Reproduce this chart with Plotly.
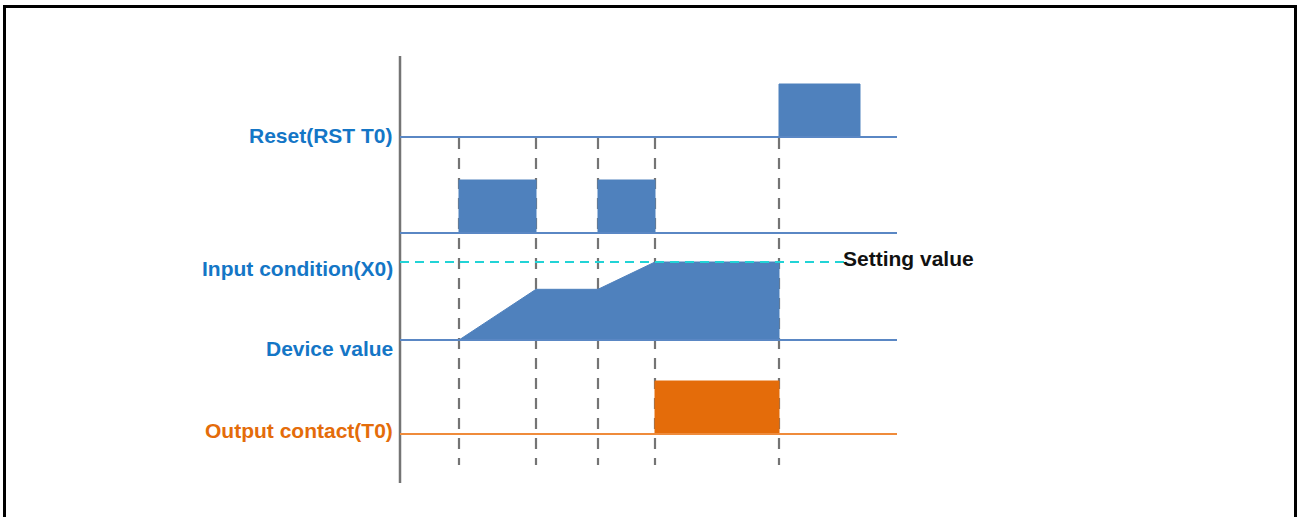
import plotly.graph_objects as go

# ---- timing data (time units along the horizontal axis) ----
event_times = [59, 136, 198, 255, 379]          # dashed guide lines
t_end = 497

reset_t = [0, 379, 379, 460, 460, 497]
reset_v = [0, 0, 1, 1, 0, 0]

input_t = [0, 59, 59, 136, 136, 198, 198, 255, 255, 497]
input_v = [0, 0, 1, 1, 0, 0, 1, 1, 0, 0]

device_t = [0, 59, 136, 198, 255, 379, 379, 497]
device_v = [0, 0, 0.65, 0.65, 1, 1, 0, 0]
setting_value = 1.0
setting_end = 445

output_t = [0, 255, 255, 379, 379, 497]
output_v = [0, 0, 1, 1, 0, 0]

labels = ["Reset(RST T0)", "Input condition(X0)", "Device value", "Output contact(T0)"]

# ---- layout constants (lane positions / styles) ----
BASE_RESET, BASE_INPUT, BASE_DEVICE, BASE_OUTPUT = 380, 284, 177, 83
AMP = 53
DEV_AMP = 78
BLUE = "#4F81BD"
BLUE_LINE = "#5A87C4"
ORANGE = "#E46C0A"
ORANGE_LINE = "#EF8B3B"
GRAY = "#747474"
CYAN = "#22D3D6"
FONT = "Liberation Sans"

fig = go.Figure()

# vertical axis line
fig.add_trace(go.Scatter(x=[0, 0], y=[461, 34], mode="lines",
                         line=dict(color=GRAY, width=2.5), hoverinfo="skip"))

# dashed guide lines
gx, gy = [], []
for t in event_times:
    gx += [t, t, None]
    gy += [BASE_RESET - 1, 52, None]
fig.add_trace(go.Scatter(x=gx, y=gy, mode="lines",
                         line=dict(color=GRAY, width=2.2, dash="11px,9px"), hoverinfo="skip"))


def lane(ts, vs, base, amp, fill, line):
    fig.add_trace(go.Scatter(x=[0, t_end], y=[base, base], mode="lines",
                             line=dict(color=line, width=2), hoverinfo="skip"))
    fig.add_trace(go.Scatter(x=ts, y=[base + amp * v for v in vs], mode="lines",
                             fill="tonexty", fillcolor=fill,
                             line=dict(color=fill, width=1), hoverinfo="skip"))
    fig.add_trace(go.Scatter(x=[0, t_end], y=[base, base], mode="lines",
                             line=dict(color=line, width=2), hoverinfo="skip"))


lane(reset_t, reset_v, BASE_RESET, AMP, BLUE, BLUE_LINE)
lane(input_t, input_v, BASE_INPUT, AMP, BLUE, BLUE_LINE)
lane(device_t, device_v, BASE_DEVICE, DEV_AMP, BLUE, BLUE_LINE)
lane(output_t, output_v, BASE_OUTPUT, AMP, ORANGE, ORANGE_LINE)

# setting value dashed line
sv_y = BASE_DEVICE + DEV_AMP * setting_value
fig.add_trace(go.Scatter(x=[0, setting_end], y=[sv_y, sv_y], mode="lines",
                         line=dict(color=CYAN, width=2, dash="9px,6px"), hoverinfo="skip"))

# labels
label_y = [382, 249, 169, 87]
label_c = ["#1476C6", "#1476C6", "#1476C6", ORANGE]
for txt, y, c in zip(labels, label_y, label_c):
    fig.add_annotation(x=-5, y=y, text="<b>" + txt + "</b>", showarrow=False,
                       xanchor="right", yanchor="middle",
                       font=dict(family=FONT, size=21, color=c))
fig.add_annotation(x=441, y=259, text="<b>Setting value</b>", showarrow=False,
                   xanchor="left", yanchor="middle",
                   font=dict(family=FONT, size=21, color="#111111"))

# outer frame
fig.add_shape(type="rect", xref="paper", yref="paper",
              x0=4.5 / 1298, x1=1295.5 / 1298, y0=-0.05, y1=1 - 6.5 / 517,
              line=dict(color="black", width=3), fillcolor="rgba(0,0,0,0)")

fig.update_layout(width=1298, height=517, margin=dict(l=0, r=0, t=0, b=0),
                  paper_bgcolor="white", plot_bgcolor="white", showlegend=False,
                  xaxis=dict(range=[-400, 898], visible=False, fixedrange=True),
                  yaxis=dict(range=[0, 517], visible=False, fixedrange=True))

fig.write_html("out.html", config={"displayModeBar": False},
               post_script="document.body.style.margin='0';document.body.style.overflow='hidden';")
